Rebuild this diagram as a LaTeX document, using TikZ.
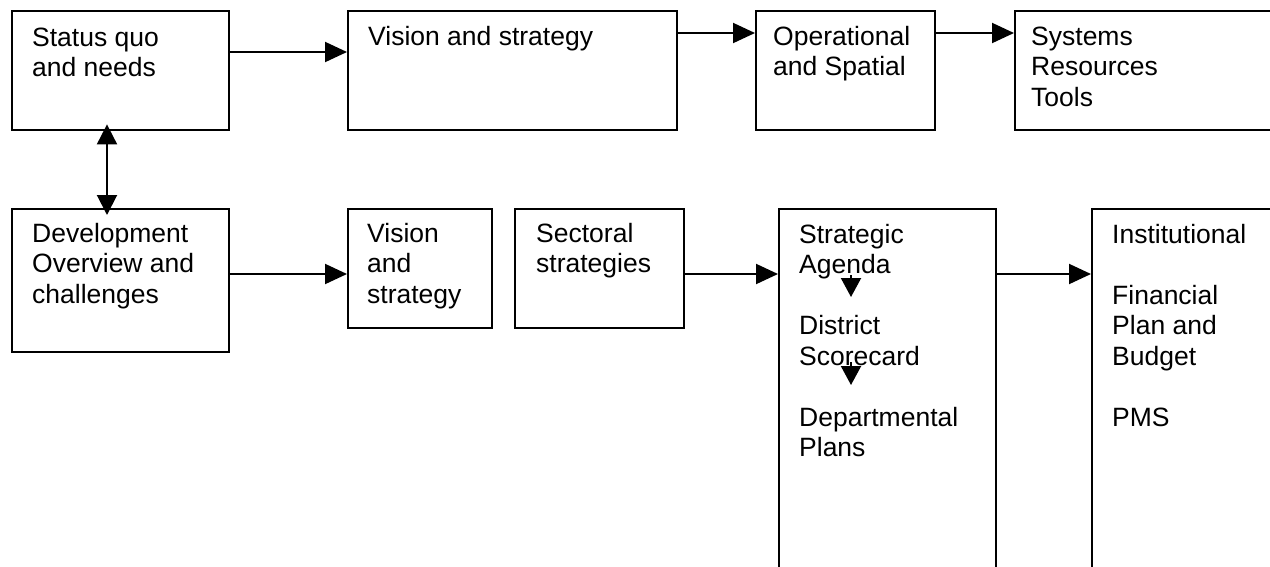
\documentclass[tikz,border=0pt]{standalone}
\usepackage{fontspec}
\setmainfont{Liberation Sans}
\usetikzlibrary{arrows.meta}
\begin{document}
\begin{tikzpicture}[x=1pt,y=-1pt,
  box/.style={draw, line width=2.4pt, inner sep=0pt, anchor=north west},
  lbl/.style={anchor=north west, inner sep=0pt, align=left,
              font=\fontsize{26.5}{30.5}\selectfont},
  link/.style={line width=2pt, -{Triangle[length=22pt,width=20pt]}},
  dlink/.style={line width=2pt, {Triangle[length=20pt,width=20pt]}-{Triangle[length=20pt,width=20pt]}},
  slink/.style={line width=2pt, -{Triangle[length=19pt,width=20pt]}}]
\useasboundingbox (0,0) rectangle (1270,566);
\fill[white] (0,0) rectangle (1270,566);
\clip (0,0) rectangle (1270,566);

% top row
\node[box, minimum width=217pt, minimum height=119pt] (b1) at (11,10) {};
\node[box, minimum width=329pt, minimum height=119pt] (b2) at (347,10) {};
\node[box, minimum width=179pt, minimum height=119pt] (b3) at (755,10) {};
\node[box, minimum width=290pt, minimum height=119pt] (b4) at (1014,10) {};

% bottom row
\node[box, minimum width=217pt, minimum height=143pt] (b5) at (11,208) {};
\node[box, minimum width=144pt, minimum height=119pt] (b6) at (347,208) {};
\node[box, minimum width=169pt, minimum height=119pt] (b7) at (514,208) {};
\node[box, minimum width=217pt, minimum height=420pt] (b8) at (778,208) {};
\node[box, minimum width=220pt, minimum height=420pt] (b9) at (1091,208) {};

% labels (each starts with a strut, so the first baseline sits 21.35pt below the top)
\node[lbl] (t1) at ([shift={(21pt,-14.65pt)}]b1.north west) {\strut Status quo\\and needs};
\node[lbl] (t2) at ([shift={(21pt,-13.65pt)}]b2.north west) {\strut Vision and strategy};
\node[lbl] (t3) at ([shift={(18pt,-13.65pt)}]b3.north west) {\strut Operational\\and Spatial};
\node[lbl] (t4) at ([shift={(17pt,-13.65pt)}]b4.north west) {\strut Systems\\Resources\\Tools};
\node[lbl] (t5) at ([shift={(21pt,-12.65pt)}]b5.north west) {\strut Development\\Overview and\\challenges};
\node[lbl] (t6) at ([shift={(20pt,-12.65pt)}]b6.north west) {\strut Vision\\and\\strategy};
\node[lbl] (t7) at ([shift={(22pt,-12.65pt)}]b7.north west) {\strut Sectoral\\strategies};
\node[lbl] (t8) at ([shift={(21pt,-13.65pt)}]b8.north west)
  {\strut Strategic\\Agenda\\[30.5pt]District\\Scorecard\\[30.5pt]Departmental\\Plans};
\node[lbl] (t9) at ([shift={(21pt,-13.65pt)}]b9.north west)
  {\strut Institutional\\[30.5pt]Financial\\Plan and\\Budget\\[30.5pt]PMS};

% connector levels
\coordinate (r1) at (0,52);
\coordinate (r2) at (0,33);
\coordinate (r3) at (0,274);
\coordinate (c1) at (107,0);

\draw[link] (b1.east |- r1) -- (b2.west |- r1);
\draw[link] (b2.east |- r2) -- (b3.west |- r2);
\draw[link] (b3.east |- r2) -- (b4.west |- r2);
\draw[dlink] ([yshift=7pt]b1.south -| c1) -- ([yshift=-7pt]b5.north -| c1);
\draw[link] (b5.east |- r3) -- (b6.west |- r3);
\draw[link] (b7.east |- r3) -- (b8.west |- r3);
\draw[link] (b8.east |- r3) -- (b9.west |- r3);

% steps inside the agenda column
\coordinate (d1s) at (851,275);
\coordinate (d1e) at (851,297);
\coordinate (d2s) at (851,362);
\coordinate (d2e) at (851,385);
\draw[slink] (d1s) -- (d1e);
\draw[slink] (d2s) -- (d2e);
\end{tikzpicture}
\end{document}
